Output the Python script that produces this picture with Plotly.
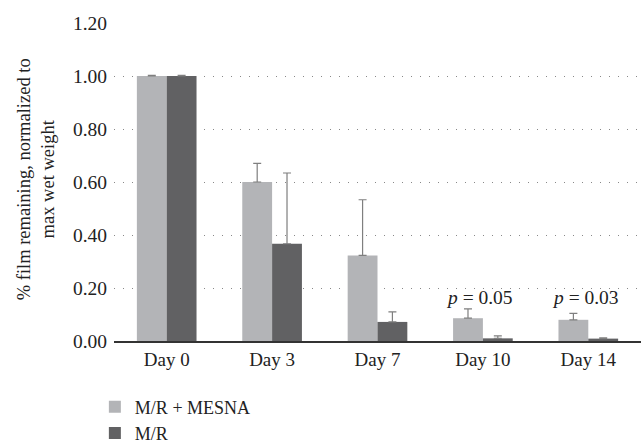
import plotly.graph_objects as go

categories = ["Day 0", "Day 3", "Day 7", "Day 10", "Day 14"]
mesna_vals = [1.00, 0.60, 0.323, 0.086, 0.080]
mesna_err = [0.002, 0.07, 0.21, 0.035, 0.024]
mr_vals = [1.00, 0.367, 0.072, 0.010, 0.009]
mr_err = [0.002, 0.267, 0.038, 0.009, 0.003]
series_names = ["M/R + MESNA", "M/R"]
p_labels = [("Day 10", "<i>p</i> = 0.05"), ("Day 14", "<i>p</i> = 0.03")]
yticks = [0.0, 0.2, 0.4, 0.6, 0.8, 1.0, 1.2]
y_title = "% film remaining, normalized to<br>max wet weight"

FONT = "Liberation Serif, DejaVu Serif, serif"
fig = go.Figure()
fig.add_trace(go.Bar(
    x=categories, y=mesna_vals, name=series_names[0],
    marker=dict(color="#b3b4b7", line=dict(width=0)),
    error_y=dict(type="data", symmetric=False, array=mesna_err, arrayminus=[0]*5,
                 color="#7f7f7f", thickness=1.2, width=4),
))
fig.add_trace(go.Bar(
    x=categories, y=mr_vals, name=series_names[1],
    marker=dict(color="#616163", line=dict(width=0)),
    error_y=dict(type="data", symmetric=False, array=mr_err, arrayminus=[0]*5,
                 color="#7f7f7f", thickness=1.2, width=4),
))

for cat, txt in p_labels:
    fig.add_annotation(x=cat, y=0.165, text=txt, showarrow=False, xshift=-3,
                       font=dict(family=FONT, size=19.5, color="#222222"))

fig.add_annotation(xref="paper", yref="paper", x=-0.149, y=0.51,
                   xanchor="center", yanchor="middle", textangle=-90,
                   text=y_title, showarrow=False,
                   font=dict(family=FONT, size=18.5, color="#222222"))

fig.update_layout(
    width=641, height=444,
    margin=dict(l=114, r=0, t=23, b=103, autoexpand=False),
    paper_bgcolor="white", plot_bgcolor="white",
    barmode="group", bargap=0.434, bargroupgap=0,
    font=dict(family=FONT, size=19, color="#222222"),
    showlegend=True,
    legend=dict(orientation="v", xref="container", yref="container",
                x=0.148, xanchor="left", y=0.125, yanchor="top",
                font=dict(family=FONT, size=18, color="#222222"),
                itemwidth=30, tracegroupgap=0),
    xaxis=dict(showline=True, linecolor="#333333", linewidth=1.5, ticks="",
               showgrid=False, tickfont=dict(size=19), fixedrange=True),
    yaxis=dict(range=[0, 1.2], tickvals=yticks,
               ticktext=[f"{v:.2f}" for v in yticks],
               showgrid=True, gridcolor="#888888", gridwidth=1, griddash="1px,8px",
               zeroline=False, showline=False, ticks="", ticklen=0,
               ticklabelstandoff=6,
               tickfont=dict(size=19.5), fixedrange=True),
)
fig.write_html("out.html", post_script="document.body.style.margin='0';",
               config={"displayModeBar": False})
